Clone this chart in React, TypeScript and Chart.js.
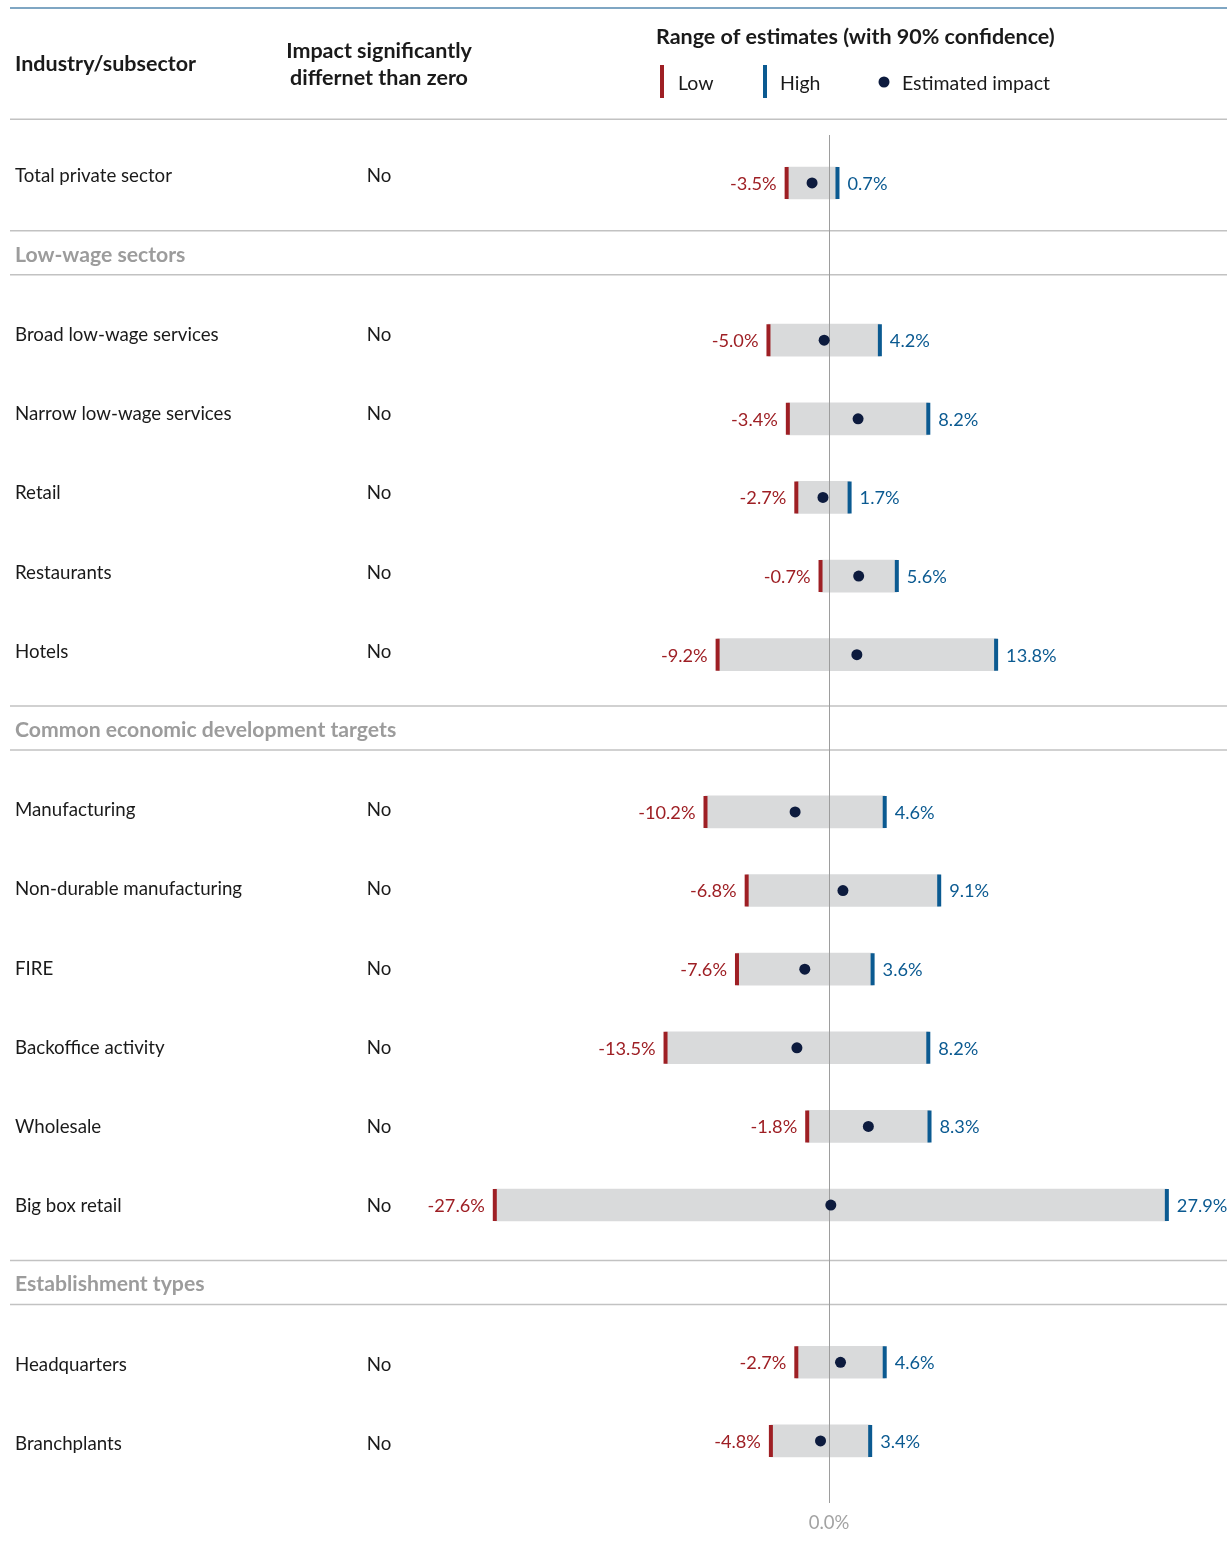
import React, { useEffect, useRef } from "react";
import { Chart, registerables } from "chart.js";

Chart.register(...registerables);

// ---------- data ----------
const sectionTitles = ["Low-wage sectors", "Common economic development targets", "Establishment types"];

const industries = [
  "Total private sector",
  "Broad low-wage services",
  "Narrow low-wage services",
  "Retail",
  "Restaurants",
  "Hotels",
  "Manufacturing",
  "Non-durable manufacturing",
  "FIRE",
  "Backoffice activity",
  "Wholesale",
  "Big box retail",
  "Headquarters",
  "Branchplants",
];

// which section each industry belongs to (-1 = none)
const industrySection = [-1, 0, 0, 0, 0, 0, 1, 1, 1, 1, 1, 1, 2, 2];

const significance = ["No", "No", "No", "No", "No", "No", "No", "No", "No", "No", "No", "No", "No", "No"];

const lowValues = [-3.5, -5.0, -3.4, -2.7, -0.7, -9.2, -10.2, -6.8, -7.6, -13.5, -1.8, -27.6, -2.7, -4.8];
const highValues = [0.7, 4.2, 8.2, 1.7, 5.6, 13.8, 4.6, 9.1, 3.6, 8.2, 8.3, 27.9, 4.6, 3.4];
const estimates = [-1.4, -0.4, 2.4, -0.5, 2.45, 2.3, -2.8, 1.15, -2.0, -2.65, 3.25, 0.15, 0.95, -0.7];

const zeroTickLabel = "0.0%";

const headerIndustry = "Industry/subsector";
const headerSignificance = ["Impact significantly", "differnet than zero"];
const headerRange = "Range of estimates (with 90% confidence)";
const legendLabels = ["Low", "High", "Estimated impact"];

// ---------- style ----------
const FONT = "Lato, 'Noto Sans', sans-serif";
const RED = "#9e1f24";
const BLUE = "#0b5a91";
const BAR_GRAY = "#d9dadb";
const DOT = "#0d1b3e";
const TEXT = "#1a1a1a";
const SECTION_GRAY = "#9c9c9c";
const RULE = "#c2c2c2";
const ZERO_LINE = "#9d9d9d";

// row positions on the (linear) y scale
const rowPos = industries.map((_, i) => i + industrySection[i] + 1);
const sectionPos = sectionTitles.map((_, k) => {
  const first = industrySection.indexOf(k);
  return first + k;
});

// text rows drift slightly relative to the bars in the original layout
const textDrift = (v: number) => -6.5 + 0.6 * v;

const fmt = (v: number) => v.toFixed(1) + "%";

const tablePlugin = {
  id: "tablePlugin",
  beforeDatasetsDraw(chart: any) {
    const ctx = chart.ctx as CanvasRenderingContext2D;
    const y = chart.scales.y;
    const W = chart.width;
    ctx.save();
    // top rule
    ctx.strokeStyle = "#7fa6c3";
    ctx.lineWidth = 2;
    ctx.beginPath();
    ctx.moveTo(10, 8);
    ctx.lineTo(W, 8);
    ctx.stroke();

    const hline = (py: number) => {
      ctx.strokeStyle = RULE;
      ctx.lineWidth = 1.5;
      ctx.beginPath();
      ctx.moveTo(10, py);
      ctx.lineTo(W, py);
      ctx.stroke();
    };
    // rule under header
    hline(y.getPixelForValue(-0.81));

    // headers
    ctx.fillStyle = TEXT;
    ctx.textBaseline = "middle";
    ctx.font = `bold 21.5px ${FONT}`;
    ctx.textAlign = "left";
    ctx.fillText(headerIndustry, 15, 64);
    ctx.textAlign = "center";
    ctx.fillText(headerSignificance[0], 379, 51);
    ctx.fillText(headerSignificance[1], 379, 78);
    ctx.textAlign = "left";
    ctx.fillText(headerRange, 656, 37);

    // legend
    ctx.font = `19.5px ${FONT}`;
    ctx.fillStyle = RED;
    ctx.fillRect(660, 65, 4, 33);
    ctx.fillStyle = BLUE;
    ctx.fillRect(763, 65, 4, 33);
    ctx.fillStyle = DOT;
    ctx.beginPath();
    ctx.arc(884, 82, 5.5, 0, Math.PI * 2);
    ctx.fill();
    ctx.fillStyle = TEXT;
    ctx.fillText(legendLabels[0], 678, 84);
    ctx.fillText(legendLabels[1], 780, 84);
    ctx.fillText(legendLabels[2], 902, 84);

    // sections
    sectionTitles.forEach((t, k) => {
      const c = y.getPixelForValue(sectionPos[k]) + textDrift(sectionPos[k]);
      hline(c - 25);
      hline(c + 19);
      ctx.fillStyle = SECTION_GRAY;
      ctx.font = `bold 21.2px ${FONT}`;
      ctx.textAlign = "left";
      ctx.fillText(t, 15, c - 1);
    });

    // row labels
    industries.forEach((name, i) => {
      const py = y.getPixelForValue(rowPos[i]) + textDrift(rowPos[i]);
      ctx.fillStyle = TEXT;
      ctx.font = `18.7px ${FONT}`;
      ctx.textAlign = "left";
      ctx.fillText(name, 15, py);
      ctx.textAlign = "center";
      ctx.fillText(significance[i], 379, py);
    });
    ctx.restore();
  },
  afterDatasetDraw(chart: any, args: any) {
    if (args.index !== 0) return;
    const ctx = chart.ctx as CanvasRenderingContext2D;
    const x = chart.scales.x;
    const area = chart.chartArea;
    const px = Math.round(x.getPixelForValue(0)) + 0.5;
    ctx.save();
    ctx.strokeStyle = ZERO_LINE;
    ctx.lineWidth = 1;
    ctx.beginPath();
    ctx.moveTo(px, area.top);
    ctx.lineTo(px, area.bottom);
    ctx.stroke();
    ctx.restore();
  },
  afterDatasetsDraw(chart: any) {
    const ctx = chart.ctx as CanvasRenderingContext2D;
    const x = chart.scales.x;
    const y = chart.scales.y;
    ctx.save();
    ctx.font = `18.2px ${FONT}`;
    ctx.textBaseline = "middle";
    industries.forEach((_, i) => {
      const py = y.getPixelForValue(rowPos[i]) + 1;
      ctx.fillStyle = RED;
      ctx.textAlign = "right";
      ctx.fillText(fmt(lowValues[i]), x.getPixelForValue(lowValues[i]) - 10, py);
      ctx.fillStyle = BLUE;
      ctx.textAlign = "left";
      ctx.fillText(fmt(highValues[i]), x.getPixelForValue(highValues[i]) + 10, py);
    });
    ctx.restore();
  },
};

export default function App() {
  const ref = useRef<HTMLCanvasElement | null>(null);

  useEffect(() => {
    document.body.style.margin = "0";
    if (!ref.current) return;
    const chart = new Chart(ref.current, {
      type: "bar",
      data: {
        datasets: [
          {
            type: "bar",
            indexAxis: "y",
            data: industries.map((_, i) => ({ x: [lowValues[i], highValues[i]], y: rowPos[i] })),
            backgroundColor: BAR_GRAY,
            borderWidth: 0,
            barThickness: 32,
            order: 3,
          } as any,
          {
            type: "scatter",
            data: industries.map((_, i) => ({ x: lowValues[i], y: rowPos[i] })),
            pointStyle: "line",
            pointRotation: 90,
            pointRadius: 16,
            pointBorderWidth: 4,
            pointBorderColor: RED,
            borderColor: RED,
            order: 1,
          } as any,
          {
            type: "scatter",
            data: industries.map((_, i) => ({ x: highValues[i], y: rowPos[i] })),
            pointStyle: "line",
            pointRotation: 90,
            pointRadius: 16,
            pointBorderWidth: 4,
            pointBorderColor: BLUE,
            borderColor: BLUE,
            order: 1,
          } as any,
          {
            type: "scatter",
            data: industries.map((_, i) => ({ x: estimates[i], y: rowPos[i] })),
            pointStyle: "circle",
            pointRadius: 5.5,
            pointBorderWidth: 0,
            pointBackgroundColor: DOT,
            backgroundColor: DOT,
            order: 0,
          } as any,
        ],
      },
      options: {
        responsive: false,
        animation: false,
        events: [],
        layout: { autoPadding: false, padding: { left: 417.3, right: 10.5, top: 135, bottom: 0 } },
        plugins: { legend: { display: false }, tooltip: { enabled: false } },
        scales: {
          x: {
            type: "linear",
            min: -34,
            max: 32,
            bounds: "data",
            offset: false,
            grid: { display: false, drawTicks: false },
            border: { display: false },
            afterBuildTicks: (s: any) => {
              s.ticks = [{ value: 0 }];
            },
            afterFit: (s: any) => {
              s.height = 49;
              s.paddingLeft = 0;
              s.paddingRight = 0;
            },
            ticks: {
              padding: 9,
              color: "#a3a3a3",
              font: { family: FONT, size: 18.5 },
              callback: () => zeroTickLabel,
            },
          },
          y: {
            type: "linear",
            display: false,
            reverse: true,
            min: -0.61,
            max: 16.79,
            bounds: "data",
            offset: false,
          },
        },
      } as any,
      plugins: [tablePlugin],
    });
    return () => chart.destroy();
  }, []);

  return (
    <div style={{ width: 1227, height: 1552, background: "#fff" }}>
      <canvas ref={ref} width={1227} height={1552} style={{ display: "block", width: 1227, height: 1552 }} />
    </div>
  );
}
